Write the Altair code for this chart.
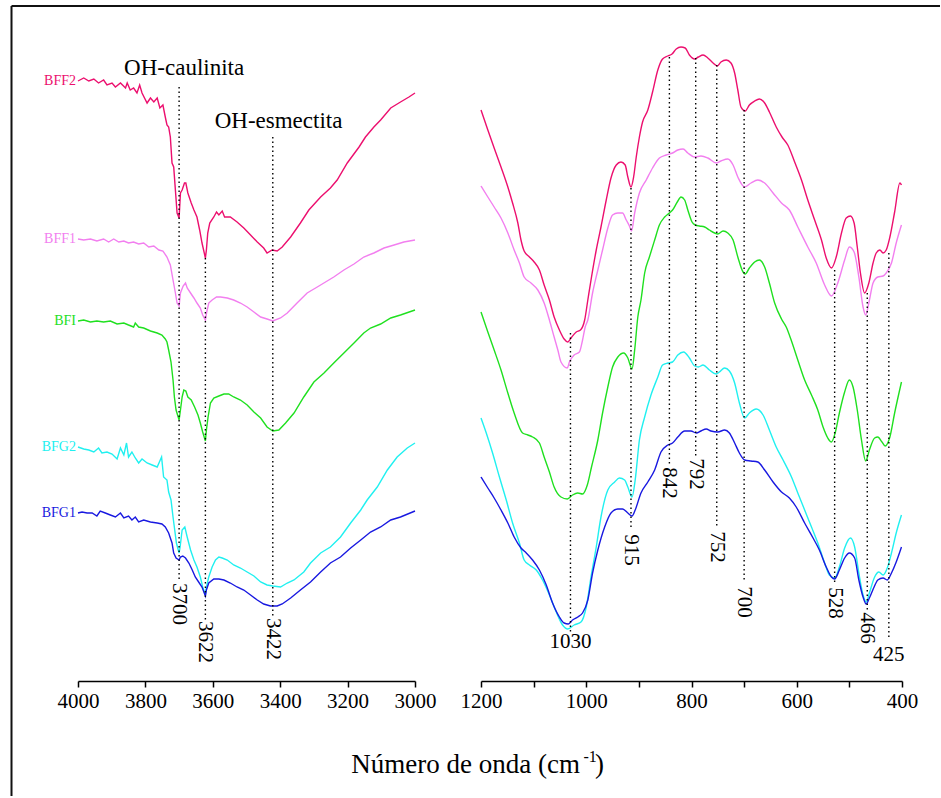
import altair as alt
import pandas as pd

# FTIR spectra (transmittance, arbitrary units, curves stacked with offsets)
SERIES = ["BFF2", "BFF1", "BFI", "BFG2", "BFG1"]
COLORS = ["#EC0F6E", "#F27FEF", "#1FE01F", "#20F0F0", "#1818E0"]
FONT = "Liberation Serif"

# ---- OH stretching region, 4000-3000 cm-1: (wavenumber, intensity) ----
BFF2_OH = [(4000, 600), (3983, 603), (3968, 600), (3953, 602), (3939, 598), (3924, 601), (3914, 596),
           (3899, 598), (3889, 594), (3874, 598), (3859, 593), (3854, 598), (3845, 591), (3835, 593),
           (3825, 588), (3817, 596), (3810, 588), (3795, 578), (3785, 583), (3775, 579), (3765, 583),
           (3757, 573), (3748, 576), (3741, 564), (3736, 556), (3731, 554), (3726, 544), (3721, 518),
           (3716, 514), (3711, 491), (3706, 468), (3700, 463), (3696, 488), (3691, 491), (3684, 498),
           (3680, 498), (3674, 488), (3664, 478), (3656, 471), (3647, 464), (3639, 451), (3632, 438),
           (3622, 423), (3619, 431), (3615, 448), (3609, 458), (3597, 464), (3589, 469), (3582, 466),
           (3572, 470), (3565, 464), (3548, 464), (3528, 459), (3508, 453), (3488, 446), (3468, 439),
           (3449, 433), (3439, 428), (3424, 431), (3409, 430), (3394, 434), (3369, 444), (3340, 458),
           (3315, 471), (3280, 484), (3251, 493), (3231, 501), (3201, 518), (3166, 534), (3147, 544),
           (3122, 554), (3102, 561), (3072, 573), (3043, 579), (3018, 584), (3000, 588)]
BFF1_OH = [(4000, 442), (3983, 441), (3963, 442), (3944, 440), (3924, 442), (3909, 439), (3894, 442),
           (3879, 439), (3864, 440), (3850, 438), (3835, 439), (3820, 437), (3805, 438), (3790, 434),
           (3775, 435), (3760, 431), (3748, 430), (3736, 424), (3726, 416), (3718, 401), (3711, 388),
           (3706, 378), (3700, 375), (3696, 388), (3688, 395), (3681, 398), (3676, 393), (3666, 388),
           (3656, 383), (3647, 378), (3637, 373), (3630, 366), (3622, 361), (3618, 369), (3612, 378),
           (3602, 381), (3589, 384), (3577, 384), (3557, 383), (3538, 381), (3518, 378), (3498, 374),
           (3478, 369), (3458, 364), (3439, 362), (3422, 360), (3399, 363), (3379, 368), (3350, 378),
           (3320, 388), (3290, 394), (3241, 404), (3211, 411), (3181, 417), (3152, 424), (3122, 428),
           (3092, 433), (3062, 436), (3033, 439), (3000, 441)]
BFI_OH = [(4000, 360), (3983, 361), (3963, 359), (3944, 360), (3924, 359), (3904, 360), (3884, 357),
          (3864, 358), (3850, 356), (3835, 354), (3830, 358), (3820, 354), (3805, 353), (3785, 350),
          (3765, 348), (3751, 346), (3741, 342), (3736, 339), (3731, 331), (3724, 319), (3718, 301),
          (3714, 284), (3709, 271), (3700, 261), (3696, 271), (3691, 284), (3686, 291), (3680, 290),
          (3674, 284), (3664, 281), (3654, 274), (3644, 266), (3637, 258), (3630, 249), (3622, 240),
          (3619, 251), (3614, 264), (3607, 278), (3597, 283), (3582, 285), (3567, 287), (3553, 287),
          (3538, 284), (3518, 281), (3498, 276), (3478, 269), (3458, 263), (3439, 254), (3422, 250),
          (3404, 251), (3384, 258), (3359, 268), (3330, 284), (3300, 299), (3270, 308), (3241, 318),
          (3211, 328), (3181, 338), (3152, 348), (3132, 353), (3102, 357), (3072, 363), (3043, 366),
          (3000, 371)]
BFG2_OH = [(4000, 234), (3983, 232), (3968, 231), (3953, 229), (3939, 233), (3929, 228), (3914, 229),
           (3899, 227), (3884, 222), (3874, 233), (3864, 226), (3856, 238), (3850, 224), (3840, 229),
           (3830, 223), (3820, 218), (3810, 222), (3795, 218), (3780, 216), (3765, 214), (3752, 224),
           (3746, 204), (3736, 201), (3731, 189), (3724, 181), (3718, 164), (3713, 151), (3708, 138),
           (3700, 128), (3697, 134), (3691, 151), (3683, 154), (3676, 144), (3666, 131), (3656, 121),
           (3647, 114), (3637, 104), (3630, 94), (3622, 86), (3619, 94), (3612, 104), (3602, 114),
           (3592, 121), (3582, 124), (3572, 123), (3557, 121), (3538, 116), (3518, 113), (3498, 109),
           (3478, 105), (3458, 99), (3439, 96), (3422, 95), (3399, 94), (3379, 98), (3359, 101),
           (3330, 109), (3310, 118), (3280, 128), (3251, 134), (3221, 144), (3191, 158), (3161, 171),
           (3142, 181), (3112, 194), (3082, 211), (3053, 224), (3023, 233), (3000, 238)]
BFG1_OH = [(4000, 168), (3988, 169), (3973, 168), (3958, 168), (3944, 165), (3934, 170), (3919, 168),
           (3904, 166), (3889, 164), (3874, 168), (3864, 163), (3850, 165), (3840, 161), (3830, 164),
           (3820, 159), (3805, 161), (3785, 159), (3765, 158), (3751, 157), (3741, 154), (3731, 148),
           (3721, 138), (3716, 128), (3709, 123), (3700, 121), (3696, 124), (3689, 125), (3681, 123),
           (3671, 118), (3661, 111), (3652, 104), (3642, 99), (3632, 94), (3622, 85), (3619, 91),
           (3612, 98), (3597, 102), (3582, 102), (3567, 101), (3548, 98), (3528, 94), (3508, 91),
           (3488, 86), (3468, 81), (3449, 77), (3429, 75), (3409, 75), (3394, 77), (3369, 83),
           (3340, 91), (3310, 99), (3280, 109), (3251, 118), (3221, 124), (3191, 133), (3161, 141),
           (3132, 149), (3102, 154), (3072, 161), (3043, 164), (3000, 170)]

# ---- lattice region, 1200-400 cm-1 ----
BFF2_LAT = [(1200, 571), (1187, 551), (1175, 533), (1162, 514), (1149, 494), (1140, 478), (1130, 458),
            (1124, 441), (1118, 430), (1108, 424), (1099, 419), (1089, 411), (1080, 396), (1070, 381),
            (1061, 364), (1051, 351), (1042, 342), (1035, 339), (1029, 343), (1019, 349), (1011, 351),
            (1003, 361), (997, 381), (990, 404), (981, 431), (972, 454), (962, 481), (953, 503),
            (943, 516), (934, 519), (926, 516), (921, 504), (915, 494), (910, 504), (905, 524),
            (899, 544), (893, 559), (883, 571), (874, 589), (864, 611), (855, 622), (845, 625),
            (837, 627), (829, 632), (820, 634), (812, 633), (804, 626), (794, 622), (787, 624),
            (778, 626), (769, 623), (759, 618), (751, 615), (744, 619), (734, 621), (725, 618),
            (718, 608), (712, 591), (706, 574), (698, 570), (690, 576), (680, 580), (671, 582),
            (661, 578), (652, 569), (639, 554), (628, 544), (617, 536), (604, 519), (591, 501),
            (579, 481), (566, 461), (553, 441), (544, 423), (534, 413), (525, 424), (515, 448),
            (506, 463), (498, 465), (491, 458), (485, 434), (479, 408), (471, 388), (463, 398),
            (455, 418), (449, 428), (442, 431), (436, 428), (430, 431), (423, 444), (414, 469),
            (404, 498), (401, 496)]
BFF1_LAT = [(1200, 495), (1187, 484), (1175, 474), (1162, 463), (1149, 448), (1137, 431), (1127, 418),
            (1118, 404), (1105, 398), (1092, 391), (1080, 378), (1070, 361), (1061, 344), (1054, 331),
            (1048, 319), (1036, 313), (1032, 319), (1023, 326), (1013, 329), (1007, 341), (1002, 354),
            (997, 361), (988, 388), (978, 411), (969, 431), (959, 453), (950, 466), (940, 468),
            (931, 468), (924, 461), (918, 455), (914, 450), (908, 468), (899, 488), (886, 501),
            (874, 513), (861, 523), (848, 526), (836, 528), (826, 531), (816, 532), (807, 528),
            (794, 524), (782, 525), (769, 523), (753, 518), (744, 520), (731, 522), (721, 516),
            (712, 504), (699, 494), (687, 498), (674, 501), (661, 498), (645, 488), (629, 478),
            (614, 471), (598, 454), (579, 434), (563, 418), (547, 396), (534, 385), (522, 398),
            (509, 421), (500, 434), (491, 429), (482, 404), (474, 374), (469, 366), (463, 378),
            (455, 398), (446, 404), (436, 405), (430, 408), (420, 418), (411, 438), (401, 456)]
BFI_LAT = [(1200, 369), (1187, 349), (1175, 331), (1162, 311), (1149, 288), (1137, 268), (1121, 248),
           (1111, 246), (1102, 244), (1089, 238), (1080, 224), (1070, 209), (1061, 194), (1048, 184),
           (1036, 182), (1026, 186), (1016, 188), (1007, 187), (998, 196), (990, 214), (978, 241),
           (969, 268), (959, 294), (950, 314), (940, 324), (929, 328), (921, 323), (913, 312),
           (908, 331), (902, 364), (896, 381), (889, 408), (880, 424), (870, 441), (861, 456),
           (851, 464), (842, 468), (836, 471), (827, 479), (820, 484), (813, 481), (807, 471),
           (799, 459), (793, 456), (785, 455), (775, 454), (766, 451), (756, 448), (750, 447),
           (740, 450), (731, 448), (721, 441), (712, 424), (702, 409), (698, 407), (690, 413),
           (680, 419), (671, 421), (661, 414), (652, 398), (642, 378), (629, 362), (620, 354),
           (610, 340), (598, 321), (585, 301), (572, 286), (560, 271), (550, 254), (541, 243),
           (534, 239), (527, 248), (519, 268), (509, 289), (500, 301), (493, 294), (485, 271),
           (477, 241), (469, 220), (462, 231), (452, 243), (446, 244), (438, 239), (432, 235),
           (423, 244), (414, 268), (401, 299)]
BFG2_LAT = [(1200, 263), (1190, 248), (1178, 228), (1165, 204), (1152, 181), (1140, 158), (1127, 138),
            (1118, 121), (1108, 116), (1095, 111), (1083, 101), (1070, 86), (1057, 69), (1045, 56),
            (1035, 52), (1023, 56), (1010, 59), (1000, 74), (991, 104), (981, 134), (972, 164),
            (959, 191), (946, 199), (937, 203), (927, 201), (921, 194), (913, 184), (907, 201),
            (899, 241), (889, 264), (877, 286), (864, 304), (855, 316), (845, 318), (836, 319),
            (826, 326), (815, 329), (804, 323), (794, 315), (787, 314), (778, 316), (766, 311),
            (753, 307), (747, 309), (737, 313), (728, 310), (718, 298), (709, 278), (699, 263),
            (690, 268), (677, 272), (664, 266), (652, 251), (639, 234), (626, 221), (610, 204),
            (598, 188), (585, 171), (572, 154), (560, 138), (547, 118), (538, 106), (528, 103),
            (519, 114), (509, 133), (498, 143), (490, 134), (482, 108), (474, 86), (468, 79),
            (462, 88), (452, 104), (444, 109), (436, 106), (428, 113), (420, 128), (411, 148),
            (401, 166)]
BFG1_LAT = [(1200, 204), (1187, 193), (1175, 183), (1162, 171), (1149, 158), (1137, 144), (1124, 133),
            (1114, 128), (1102, 121), (1089, 111), (1076, 96), (1064, 78), (1051, 64), (1042, 58),
            (1034, 57), (1026, 61), (1016, 64), (1007, 68), (997, 81), (988, 108), (978, 131),
            (965, 154), (953, 168), (940, 172), (931, 172), (921, 168), (913, 165), (907, 171),
            (896, 188), (883, 199), (870, 211), (858, 229), (845, 236), (836, 238), (826, 244),
            (813, 250), (801, 250), (791, 248), (782, 250), (772, 252), (763, 250), (750, 249),
            (737, 251), (728, 248), (718, 238), (709, 228), (699, 221), (687, 220), (674, 219),
            (661, 211), (645, 199), (629, 189), (614, 183), (601, 174), (585, 158), (569, 143),
            (557, 131), (544, 114), (534, 104), (528, 102), (519, 111), (509, 123), (500, 128),
            (490, 123), (482, 101), (474, 84), (468, 77), (462, 83), (453, 94), (446, 101),
            (436, 103), (428, 101), (420, 108), (411, 119), (401, 134)]

# ---- assigned bands: position, dotted guide extent, label height ----
OH_BANDS = [3700, 3622, 3422]
OH_TOP = [594, 423, 544]
OH_BOTTOM = [99, 61, 63]
OH_LABEL_Y = [77, 39, 42]

LAT_BANDS = [1030, 915, 842, 792, 752, 700, 528, 466, 425]
LAT_TOP = [348, 493, 624, 623, 616, 571, 411, 388, 428]
LAT_BOTTOM = [49, 151, 216, 223, 154, 99, 98, 71, 41]
LAT_LABEL_Y = [39, 131, 198, 207, 134, 79, 78, 53, 26]
LAT_LABEL_ROTATED = [False, True, True, True, True, True, True, True, False]

GROUP_NAMES = ["OH-caulinita", "OH-esmectita"]
GROUP_X = [3685, 3405]
GROUP_Y = [613, 560]

Y_MAX = 655


def long_frame(curves):
    rows = []
    for name, pairs in zip(SERIES, curves):
        for wn, t in pairs:
            rows.append({"serie": name, "wn": wn, "t": t})
    return pd.DataFrame(rows)


oh_df = long_frame([BFF2_OH, BFF1_OH, BFI_OH, BFG2_OH, BFG1_OH])
lat_df = long_frame([BFF2_LAT, BFF1_LAT, BFI_LAT, BFG2_LAT, BFG1_LAT])

oh_bands = pd.DataFrame({"wn": OH_BANDS, "top": OH_TOP, "bottom": OH_BOTTOM,
                         "ly": OH_LABEL_Y, "label": [str(b) for b in OH_BANDS]})
lat_bands = pd.DataFrame({"wn": LAT_BANDS, "top": LAT_TOP, "bottom": LAT_BOTTOM,
                          "ly": LAT_LABEL_Y, "label": [str(b) for b in LAT_BANDS],
                          "rot": LAT_LABEL_ROTATED})
names_df = pd.DataFrame({"serie": SERIES, "wn": [4006] * 5,
                         "t": [c[0][1] for c in (BFF2_OH, BFF1_OH, BFI_OH, BFG2_OH, BFG1_OH)]})
groups_df = pd.DataFrame({"label": GROUP_NAMES, "wn": GROUP_X, "t": GROUP_Y})
one = pd.DataFrame({"k": [0]})

color = alt.Color("serie:N", scale=alt.Scale(domain=SERIES, range=COLORS), legend=None)
y_enc = alt.Y("t:Q", scale=alt.Scale(domain=[0, Y_MAX], nice=False, zero=False), axis=None)


def x_enc(domain, step):
    lo, hi = min(domain), max(domain)
    return alt.X(
        "wn:Q",
        scale=alt.Scale(domain=domain, nice=False, zero=False),
        axis=alt.Axis(values=list(range(lo, hi + 1, step)), format="d",
                      labelExpr="datum.value % 200 == 0 ? datum.label : ''", title=None,
                      labelFont=FONT, labelFontSize=21, labelColor="black", labelPadding=3,
                      domainColor="black", domainWidth=1.5, tickColor="black", tickWidth=1.5,
                      tickSize=6, grid=False, labelFlush=False, labelOverlap=False),
    )


def panel(df, bands, domain, interp):
    x = x_enc(domain, 100)
    lines = alt.Chart(df).mark_line(strokeWidth=1.4, interpolate=interp).encode(
        x=x, y=y_enc, color=color, detail="serie:N")
    guides = alt.Chart(bands).mark_rule(color="black", strokeWidth=1.4, strokeDash=[1.5, 3]).encode(
        x="wn:Q", y="top:Q", y2="bottom:Q")
    return lines, guides


oh_lines, oh_guides = panel(oh_df, oh_bands, [4000, 3000], "linear")
lat_lines, lat_guides = panel(lat_df, lat_bands, [1200, 400], "monotone")

band_text = dict(font=FONT, fontSize=21, color="black", align="center", baseline="middle")
oh_labels = alt.Chart(oh_bands).mark_text(angle=90, **band_text).encode(x="wn:Q", y="ly:Q", text="label:N")
lat_rot = alt.Chart(lat_bands).transform_filter("datum.rot").mark_text(angle=90, **band_text).encode(
    x="wn:Q", y="ly:Q", text="label:N")
lat_flat = alt.Chart(lat_bands).transform_filter("!datum.rot").mark_text(**band_text).encode(
    x="wn:Q", y="ly:Q", text="label:N")

names = alt.Chart(names_df).mark_text(font=FONT, fontSize=14, align="right", baseline="middle").encode(
    x="wn:Q", y="t:Q", text="serie:N", color=color)
groups = alt.Chart(groups_df).mark_text(font=FONT, fontSize=23, color="black", align="center",
                                        baseline="middle").encode(x="wn:Q", y="t:Q", text="label:N")

# outer frame (left and top edges) and the shared x-axis title
frame_left = alt.Chart(one).mark_rule(color="#111111", strokeWidth=2).encode(
    x=alt.value(-66.5), y=alt.value(-20), y2=alt.value(770))
frame_top = alt.Chart(one).mark_rule(color="#111111", strokeWidth=2).encode(
    x=alt.value(-66.5), x2=alt.value(862), y=alt.value(-20))
title_main = alt.Chart(one).mark_text(text="Número de onda (cm", font=FONT, fontSize=27, color="black",
                                      align="right", baseline="alphabetic").encode(
    x=alt.value(502), y=alt.value(747))
title_sup = alt.Chart(one).mark_text(text="-1", font=FONT, fontSize=16, color="black",
                                     align="left", baseline="alphabetic").encode(
    x=alt.value(505.5), y=alt.value(736))
title_close = alt.Chart(one).mark_text(text=")", font=FONT, fontSize=27, color="black",
                                       align="left", baseline="alphabetic").encode(
    x=alt.value(517), y=alt.value(747))

left = alt.layer(oh_lines, oh_guides, oh_labels, names, groups, frame_left, frame_top,
                 title_main, title_sup, title_close).properties(width=337, height=655)
right = alt.layer(lat_lines, lat_guides, lat_rot, lat_flat).properties(width=421, height=655)

chart = (
    alt.hconcat(left, right, spacing=66, bounds="flush")
    .properties(padding={"left": 10, "top": 5, "right": 0, "bottom": 0}, background="white")
    .configure_view(stroke=None)
    .configure_axis(labelFont=FONT, grid=False)
)

chart.save("out.html", embed_options={"renderer": "svg", "actions": False})
